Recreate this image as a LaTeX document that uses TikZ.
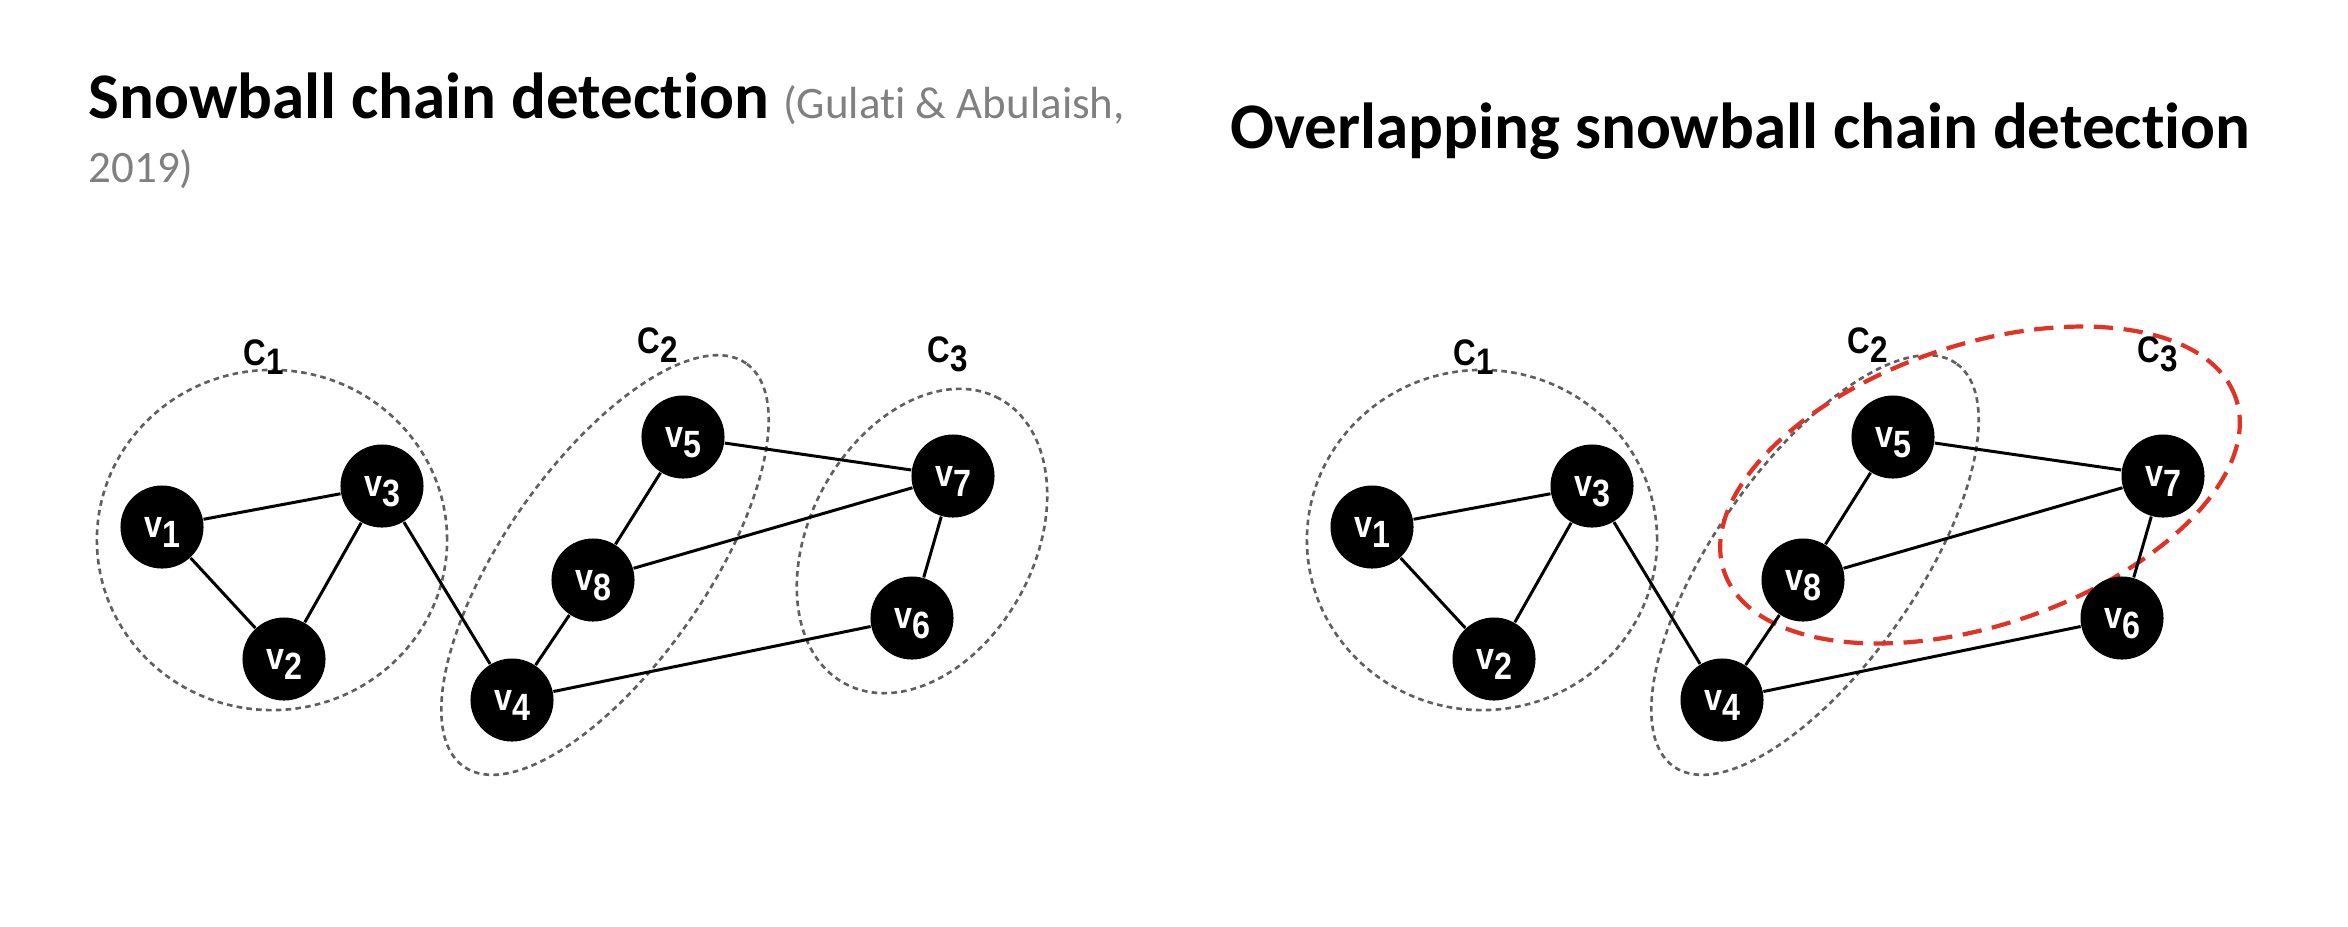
\documentclass[tikz,border=0pt]{standalone}
\usepackage{fontspec}
\setmainfont{Carlito}[Ligatures=NoCommon]
\newfontfamily\graphfont[FakeStretch=0.85]{Liberation Sans}
\definecolor{citegrey}{RGB}{128,128,128}
\definecolor{ringgrey}{RGB}{95,95,95}
\definecolor{overlapred}{RGB}{226,50,38}
\newcommand{\lowsub}[1]{\raisebox{-0.27em}{#1}}
\tikzset{
  vtx/.style={circle, fill=black, minimum size=0.83cm, inner sep=0pt, text=white, text depth=0pt,
    font=\graphfont\bfseries\fontsize{10.8}{12}\selectfont},
  edge/.style={draw=black, line width=0.85pt},
  ring/.style={draw=ringgrey, line width=0.75pt, dash pattern=on 1.6pt off 1.2pt},
  overlap/.style={draw=overlapred, line width=1.2pt, dash pattern=on 5.5pt off 3pt},
  clab/.style={font=\graphfont\bfseries\fontsize{10.5}{12}\selectfont, anchor=base west, inner sep=0pt},
  title/.style={font=\bfseries\fontsize{18.5}{22}\selectfont, anchor=base west, inner sep=0pt},
  cite/.style={font=\fontsize{12.8}{15}\selectfont, text=citegrey, anchor=base west, inner sep=0pt},
}
\begin{document}
\begin{tikzpicture}[x=0.01cm,y=-0.01cm]
\def\dx{1210}
\useasboundingbox (0,0) rectangle (2348,926);
% titles
\node[title] (t1) at (88,118) {Snowball chain detection {\mdseries\color{citegrey}\fontsize{12.8}{15}\selectfont(Gulati \& Abulaish,}};
\node[cite] (t1b) at (88,182) {2019)};
\node[title] (t2) at (1230,148) {Overlapping snowball chain detection};
% left panel: clusters
\draw[ring] (272,540) ellipse [x radius=1.75cm, y radius=1.70cm];
\draw[ring, rotate around={55:(605,565)}] (605,565) ellipse [x radius=2.46cm, y radius=1.01cm];
\draw[ring, rotate around={61.5:(922,541)}] (922,541) ellipse [x radius=1.62cm, y radius=1.12cm];
\node[clab] (c1) at (243,365) {C\lowsub{1}};
\node[clab] (c2) at (637,353) {C\lowsub{2}};
\node[clab] (c3) at (927,362) {C\lowsub{3}};
% left panel: graph
\node[vtx] (a1) at (162,527) {v\lowsub{1}};
\node[vtx] (a2) at (284,659) {v\lowsub{2}};
\node[vtx] (a3) at (382,486) {v\lowsub{3}};
\node[vtx] (a4) at (512,700) {v\lowsub{4}};
\node[vtx] (a5) at (683,437) {v\lowsub{5}};
\node[vtx] (a6) at (912,618) {v\lowsub{6}};
\node[vtx] (a7) at (953,476) {v\lowsub{7}};
\node[vtx] (a8) at (593,580) {v\lowsub{8}};
\draw[edge] (a1) -- (a3) (a1) -- (a2) (a2) -- (a3) (a3) -- (a4) (a4) -- (a8);
\draw[edge] (a8) -- (a5) (a5) -- (a7) (a8) -- (a7) (a7) -- (a6) (a4) -- (a6);
% right panel: clusters (C3 replaced by the overlap)
\draw[ring] ({272+\dx},540) ellipse [x radius=1.75cm, y radius=1.70cm];
\draw[ring, rotate around={55:({605+\dx},565)}] ({605+\dx},565) ellipse [x radius=2.46cm, y radius=1.01cm];
\draw[overlap, rotate around={18.7:(1980,485)}] (1980,485) ellipse [x radius=2.70cm, y radius=1.40cm];
\node[clab] (d1) at ({243+\dx},365) {C\lowsub{1}};
\node[clab] (d2) at ({637+\dx},353) {C\lowsub{2}};
\node[clab] (d3) at ({927+\dx},362) {C\lowsub{3}};
% right panel: graph
\node[vtx] (b1) at ({162+\dx},527) {v\lowsub{1}};
\node[vtx] (b2) at ({284+\dx},659) {v\lowsub{2}};
\node[vtx] (b3) at ({382+\dx},486) {v\lowsub{3}};
\node[vtx] (b4) at ({512+\dx},700) {v\lowsub{4}};
\node[vtx] (b5) at ({683+\dx},437) {v\lowsub{5}};
\node[vtx] (b6) at ({912+\dx},618) {v\lowsub{6}};
\node[vtx] (b7) at ({953+\dx},476) {v\lowsub{7}};
\node[vtx] (b8) at ({593+\dx},580) {v\lowsub{8}};
\draw[edge] (b1) -- (b3) (b1) -- (b2) (b2) -- (b3) (b3) -- (b4) (b4) -- (b8);
\draw[edge] (b8) -- (b5) (b5) -- (b7) (b8) -- (b7) (b7) -- (b6) (b4) -- (b6);
\end{tikzpicture}
\end{document}
